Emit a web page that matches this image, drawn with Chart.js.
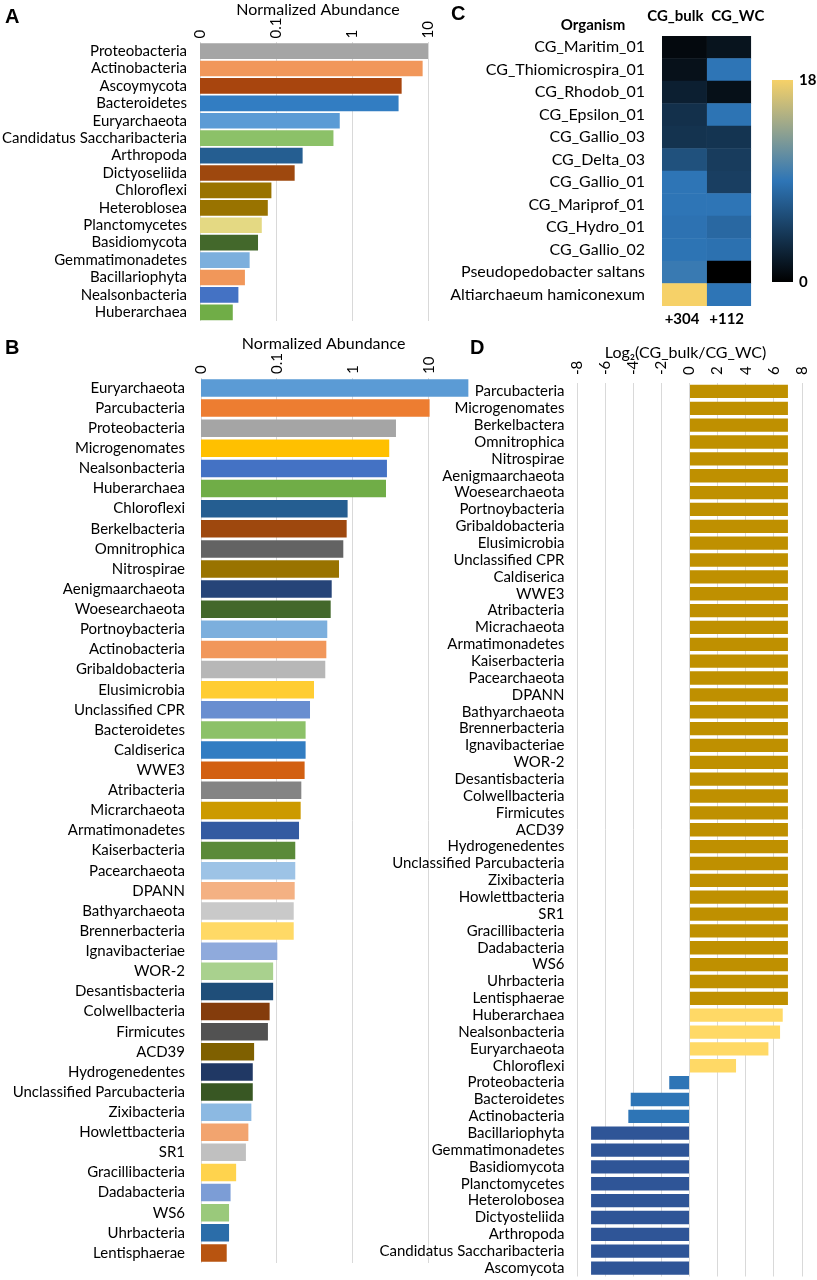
<!DOCTYPE html>
<html><head><meta charset="utf-8">
<script src="https://cdn.jsdelivr.net/npm/chart.js@4.4.0/dist/chart.umd.min.js"></script>
<style>
html,body{margin:0;padding:0;background:#fff;}
body{width:817px;height:1280px;position:relative;overflow:hidden;font-family:Lato,sans-serif;}
.box{position:absolute;}
.letter{position:absolute;font-family:"Liberation Sans",Arial,sans-serif;font-weight:bold;font-size:20px;line-height:20px;color:#000;}
</style></head><body>
<div class="box" id="boxA" style="left:0;top:0;width:440px;height:335px"><canvas id="cA"></canvas></div>
<div class="box" id="boxB" style="left:0;top:330px;width:480px;height:950px"><canvas id="cB"></canvas></div>
<div class="box" id="boxC" style="left:450px;top:0;width:320px;height:330px"><canvas id="cC"></canvas></div>
<div class="box" id="boxS" style="left:760px;top:70px;width:57px;height:225px"><canvas id="cS"></canvas></div>
<div class="box" id="boxD" style="left:370px;top:330px;width:447px;height:960px"><canvas id="cD"></canvas></div>
<div class="letter" style="left:5px;top:6px">A</div>
<div class="letter" style="left:5px;top:337px">B</div>
<div class="letter" style="left:451px;top:3px">C</div>
<div class="letter" style="left:470px;top:337px">D</div>
<script>
// ---------- data ----------
const logTickValues = [0.01, 0.1, 1, 10];
const logTickLabels = ['0', '0.1', '1', '10'];
const abundanceTitle = 'Normalized Abundance';

const namesA = ['Proteobacteria','Actinobacteria','Ascoymycota','Bacteroidetes','Euryarchaeota','Candidatus Saccharibacteria','Arthropoda','Dictyoseliida','Chloroflexi','Heteroblosea','Planctomycetes','Basidiomycota','Gemmatimonadetes','Bacillariophyta','Nealsonbacteria','Huberarchaea'];
const valuesA = [10, 8.5, 4.5, 4.1, 0.69, 0.57, 0.224, 0.176, 0.087, 0.078, 0.065, 0.058, 0.045, 0.039, 0.032, 0.027];

const namesB = ['Euryarchaeota','Parcubacteria','Proteobacteria','Microgenomates','Nealsonbacteria','Huberarchaea','Chloroflexi','Berkelbacteria','Omnitrophica','Nitrospirae','Aenigmaarchaeota','Woesearchaeota','Portnoybacteria','Actinobacteria','Gribaldobacteria','Elusimicrobia','Unclassified CPR','Bacteroidetes','Caldiserica','WWE3','Atribacteria','Micrarchaeota','Armatimonadetes','Kaiserbacteria','Pacearchaeota','DPANN','Bathyarchaeota','Brennerbacteria','Ignavibacteriae','WOR-2','Desantisbacteria','Colwellbacteria','Firmicutes','ACD39','Hydrogenedentes','Unclassified Parcubacteria','Zixibacteria','Howlettbacteria','SR1','Gracillibacteria','Dadabacteria','WS6','Uhrbacteria','Lentisphaerae'];
const valuesB = [33, 10.2, 3.68, 3.0, 2.8, 2.72, 0.85, 0.826, 0.746, 0.655, 0.525, 0.509, 0.459, 0.446, 0.432, 0.307, 0.272, 0.238, 0.238, 0.231, 0.209, 0.205, 0.195, 0.174, 0.174, 0.171, 0.166, 0.166, 0.101, 0.089, 0.089, 0.080, 0.076, 0.050, 0.048, 0.048, 0.046, 0.042, 0.039, 0.029, 0.0245, 0.0234, 0.0234, 0.0218];

const headerC = 'Organism';
const namesC = ['CG_Maritim_01','CG_Thiomicrospira_01','CG_Rhodob_01','CG_Epsilon_01','CG_Gallio_03','CG_Delta_03','CG_Gallio_01','CG_Mariprof_01','CG_Hydro_01','CG_Gallio_02','Pseudopedobacter saltans','Altiarchaeum hamiconexum'];
const columnsC = ['CG_bulk', 'CG_WC'];
const bulkC = [0.7, 1.3, 2.4, 3.7, 3.9, 6.2, 9.0, 9.0, 8.8, 8.9, 9.5, 18];
const wcC = [1.5, 9.0, 1.2, 8.9, 4.0, 4.6, 4.8, 9.0, 8.0, 8.7, 0, 9.0];
const totalsC = ['+304', '+112'];
const scaleTicksC = [0, 18];

const namesD = ['Parcubacteria','Microgenomates','Berkelbactera','Omnitrophica','Nitrospirae','Aenigmaarchaeota','Woesearchaeota','Portnoybacteria','Gribaldobacteria','Elusimicrobia','Unclassified CPR','Caldiserica','WWE3','Atribacteria','Micrachaeota','Armatimonadetes','Kaiserbacteria','Pacearchaeota','DPANN','Bathyarchaeota','Brennerbacteria','Ignavibacteriae','WOR-2','Desantisbacteria','Colwellbacteria','Firmicutes','ACD39','Hydrogenedentes','Unclassified Parcubacteria','Zixibacteria','Howlettbacteria','SR1','Gracillibacteria','Dadabacteria','WS6','Uhrbacteria','Lentisphaerae','Huberarchaea','Nealsonbacteria','Euryarchaeota','Chloroflexi','Proteobacteria','Bacteroidetes','Actinobacteria','Bacillariophyta','Gemmatimonadetes','Basidiomycota','Planctomycetes','Heterolobosea','Dictyosteliida','Arthropoda','Candidatus Saccharibacteria','Ascomycota'];
const valuesD = [7,7,7,7,7,7,7,7,7,7,7,7,7,7,7,7,7,7,7,7,7,7,7,7,7,7,7,7,7,7,7,7,7,7,7,7,7, 6.63, 6.44, 5.61, 3.31, -1.44, -4.18, -4.35, -7,-7,-7,-7,-7,-7,-7,-7,-7];
const groupD = ['only bulk','only bulk','only bulk','only bulk','only bulk','only bulk','only bulk','only bulk','only bulk','only bulk','only bulk','only bulk','only bulk','only bulk','only bulk','only bulk','only bulk','only bulk','only bulk','only bulk','only bulk','only bulk','only bulk','only bulk','only bulk','only bulk','only bulk','only bulk','only bulk','only bulk','only bulk','only bulk','only bulk','only bulk','only bulk','only bulk','only bulk','bulk','bulk','bulk','bulk','wc','wc','wc','only wc','only wc','only wc','only wc','only wc','only wc','only wc','only wc','only wc'];
const tickLabelsD = ['-8','-6','-4','-2','0','2','4','6','8'];
const titleD = 'Log\u2082(CG_bulk/CG_WC)';

// ---------- styles ----------
const colorsA = ['#A5A5A5','#F1975A','#A8450E','#327DC2','#5B9BD5','#8CC168','#255E91','#9E480E','#997300','#997300','#E4D983','#43682B','#7CAFDD','#F1975A','#4472C4','#70AD47'];
const colorsB = ['#5B9BD5','#ED7D31','#A5A5A5','#FFC000','#4472C4','#70AD47',
  '#255E91','#9E480E','#636363','#997300','#264478','#43682B',
  '#7CAFDD','#F1975A','#B7B7B7','#FFCD33','#698ED0','#8CC168',
  '#327DC2','#D26012','#848484','#CC9A00','#335AA1','#5A8A39',
  '#9DC3E6','#F4B183','#C9C9C9','#FFD966','#8FAADC','#A9D18E',
  '#1F4E79','#843C0C','#525252','#7F6000','#203864','#385723',
  '#8CB9E2','#F2A46F','#C0C0C0','#FFD34D','#7C9DD6','#9AC97B',
  '#2B6DA9','#B85410'];
const groupColorsD = {'only bulk':'#BF9000','bulk':'#FFD966','wc':'#2E75B6','only wc':'#2F5597'};
const heatStops = [[0,[0,0,0]],[9,[46,117,182]],[18,[246,209,104]]];
const GRID = '#d9d9d9';
const FONT = 15;
const TITLE_FONT = 16;
const LINE_H = FONT * 1.2;

Chart.defaults.font.family = 'Lato, sans-serif';
Chart.defaults.font.size = FONT;
Chart.defaults.color = '#000';
Chart.defaults.animation = false;
Chart.defaults.plugins.legend.display = false;
Chart.defaults.plugins.tooltip.enabled = false;
Chart.defaults.maintainAspectRatio = false;

function heatColor(v){
  for (let i = 1; i < heatStops.length; i++){
    const [v0,c0] = heatStops[i-1], [v1,c1] = heatStops[i];
    if (v <= v1 || i === heatStops.length-1){
      const t = Math.max(0, Math.min(1, (v - v0) / (v1 - v0)));
      const c = c0.map((x,k)=>Math.round(x + (c1[k]-x)*t));
      return 'rgb(' + c.join(',') + ')';
    }
  }
}

function logChart(id, names, values, colors, o){
  return new Chart(document.getElementById(id), {
    type:'bar',
    data:{labels:names, datasets:[{data:values, backgroundColor:colors, borderWidth:0, barPercentage:o.bar, categoryPercentage:1}]},
    options:{
      indexAxis:'y',
      layout:{padding:{left:0, right:o.padRight, top:0, bottom:o.padBottom}},
      scales:{
        x:{type:'logarithmic', position:'top', min:0.01, max:o.max, bounds:'data',
          afterBuildTicks:s=>{ s.ticks = logTickValues.map(v=>({value:v})); },
          afterFit:s=>{ s.height = o.topH; },
          ticks:{autoSkip:false, minRotation:90, maxRotation:90, padding:o.tickPad, labelOffset:LINE_H, callback:(v,i)=>logTickLabels[i]},
          grid:{color:GRID, drawTicks:false}, border:{display:false},
          title:{display:true, text:o.title, font:{size:TITLE_FONT}, padding:{top:o.titlePad, bottom:0}}
        },
        y:{afterFit:s=>{ s.width = o.yW; },
          ticks:{autoSkip:false, padding:o.yPad},
          grid:{display:false}, border:{display:false}}
      }
    }
  });
}

// Panel A
logChart('cA', namesA, valuesA, colorsA, {bar:0.9, padRight:12, padBottom:12.4, max:10, topH:42.4, tickPad:4, title:'\u2002' + abundanceTitle, titlePad:0, yW:200, yPad:5});
// Panel B
logChart('cB', namesB, valuesB, colorsB, {bar:0.87, padRight:9.7, padBottom:12.9, max:35, topH:47.9, tickPad:4, title:abundanceTitle + '\u2002\u2002\u2002', titlePad:4, yW:201, yPad:8});

// Panel C heatmap
const headerPlugin = {id:'organismHeader', afterDraw(chart){
  const ctx = chart.ctx; ctx.save();
  ctx.font = 'bold ' + FONT + 'px Lato, sans-serif'; ctx.fillStyle = '#000';
  ctx.textAlign = 'center'; ctx.textBaseline = 'middle';
  ctx.fillText(headerC, chart.chartArea.left - 69, 25);
  ctx.restore();
}};
new Chart(document.getElementById('cC'), {
  type:'bar',
  data:{labels:namesC, datasets:[
    {label:columnsC[0], data:bulkC.map(()=>1), backgroundColor:bulkC.map(heatColor), borderWidth:0, barPercentage:1, categoryPercentage:1, xAxisID:'x', yAxisID:'y'},
    {label:columnsC[1], data:wcC.map(()=>1), backgroundColor:wcC.map(heatColor), borderWidth:0, barPercentage:1, categoryPercentage:1, xAxisID:'x', yAxisID:'y'}
  ]},
  options:{
    indexAxis:'y',
    layout:{padding:{left:0,right:18,top:0,bottom:0}},
    scales:{
      x:{type:'linear', stacked:true, position:'top', min:0, max:2,
        afterBuildTicks:s=>{ s.ticks = [{value:0.3},{value:1.7}]; },
        afterFit:s=>{ s.height = 36; },
        ticks:{autoSkip:false, maxRotation:0, padding:3, font:{weight:'bold'}, callback:(v,i)=>columnsC[i]},
        grid:{display:false}, border:{display:false}},
      x2:{type:'linear', position:'bottom', min:0, max:2,
        afterBuildTicks:s=>{ s.ticks = [{value:0.45},{value:1.45}]; },
        afterFit:s=>{ s.height = 24; },
        ticks:{autoSkip:false, maxRotation:0, padding:-4, font:{weight:'bold'}, callback:(v,i)=>totalsC[i]},
        grid:{display:false}, border:{display:false}},
      y:{stacked:true, afterFit:s=>{ s.width = 212; },
        ticks:{autoSkip:false, padding:9, font:{size:16}}, grid:{display:false}, border:{display:false}}
    }
  },
  plugins:[headerPlugin]
});

// Colour scale
function gradientFill(ctx){
  const area = ctx.chart.chartArea;
  if (!area) return '#2E75B6';
  const g = ctx.chart.ctx.createLinearGradient(0, area.bottom, 0, area.top);
  const lo = scaleTicksC[0], hi = scaleTicksC[1];
  heatStops.forEach(([v,c])=>g.addColorStop((v-lo)/(hi-lo), 'rgb(' + c.join(',') + ')'));
  return g;
}
new Chart(document.getElementById('cS'), {
  type:'bar',
  data:{labels:[''], datasets:[{data:[scaleTicksC[1]], backgroundColor:gradientFill, borderWidth:0, barPercentage:1, categoryPercentage:1}]},
  options:{
    layout:{padding:{left:12,right:0,top:10,bottom:13}},
    scales:{
      x:{display:false},
      y:{position:'right', min:scaleTicksC[0], max:scaleTicksC[1],
        afterBuildTicks:s=>{ s.ticks = scaleTicksC.map(v=>({value:v})); },
        afterFit:s=>{ s.width = 24; },
        ticks:{padding:-2, font:{weight:'bold'}},
        grid:{display:false}, border:{display:false}}
    }
  }
});

// Panel D
new Chart(document.getElementById('cD'), {
  type:'bar',
  data:{labels:namesD, datasets:[{data:valuesD, backgroundColor:groupD.map(g=>groupColorsD[g]), borderWidth:0, barPercentage:0.79, categoryPercentage:1}]},
  options:{
    indexAxis:'y',
    layout:{padding:{left:0,right:15,top:0,bottom:12.2}},
    scales:{
      x:{type:'linear', position:'top', min:-8, max:8,
        ticks:{stepSize:2, autoSkip:false, minRotation:90, maxRotation:90, padding:8, labelOffset:LINE_H, callback:(v,i)=>tickLabelsD[i]},
        afterFit:s=>{ s.height = 53; },
        grid:{color:GRID, drawTicks:false}, border:{display:false},
        title:{display:true, text:titleD + '\u2002', font:{size:TITLE_FONT}, padding:{top:13,bottom:0}}},
      y:{afterFit:s=>{ s.width = 207; },
        ticks:{autoSkip:false, padding:4.5}, grid:{display:false}, border:{display:false}}
    }
  }
});
</script>
</body></html>
